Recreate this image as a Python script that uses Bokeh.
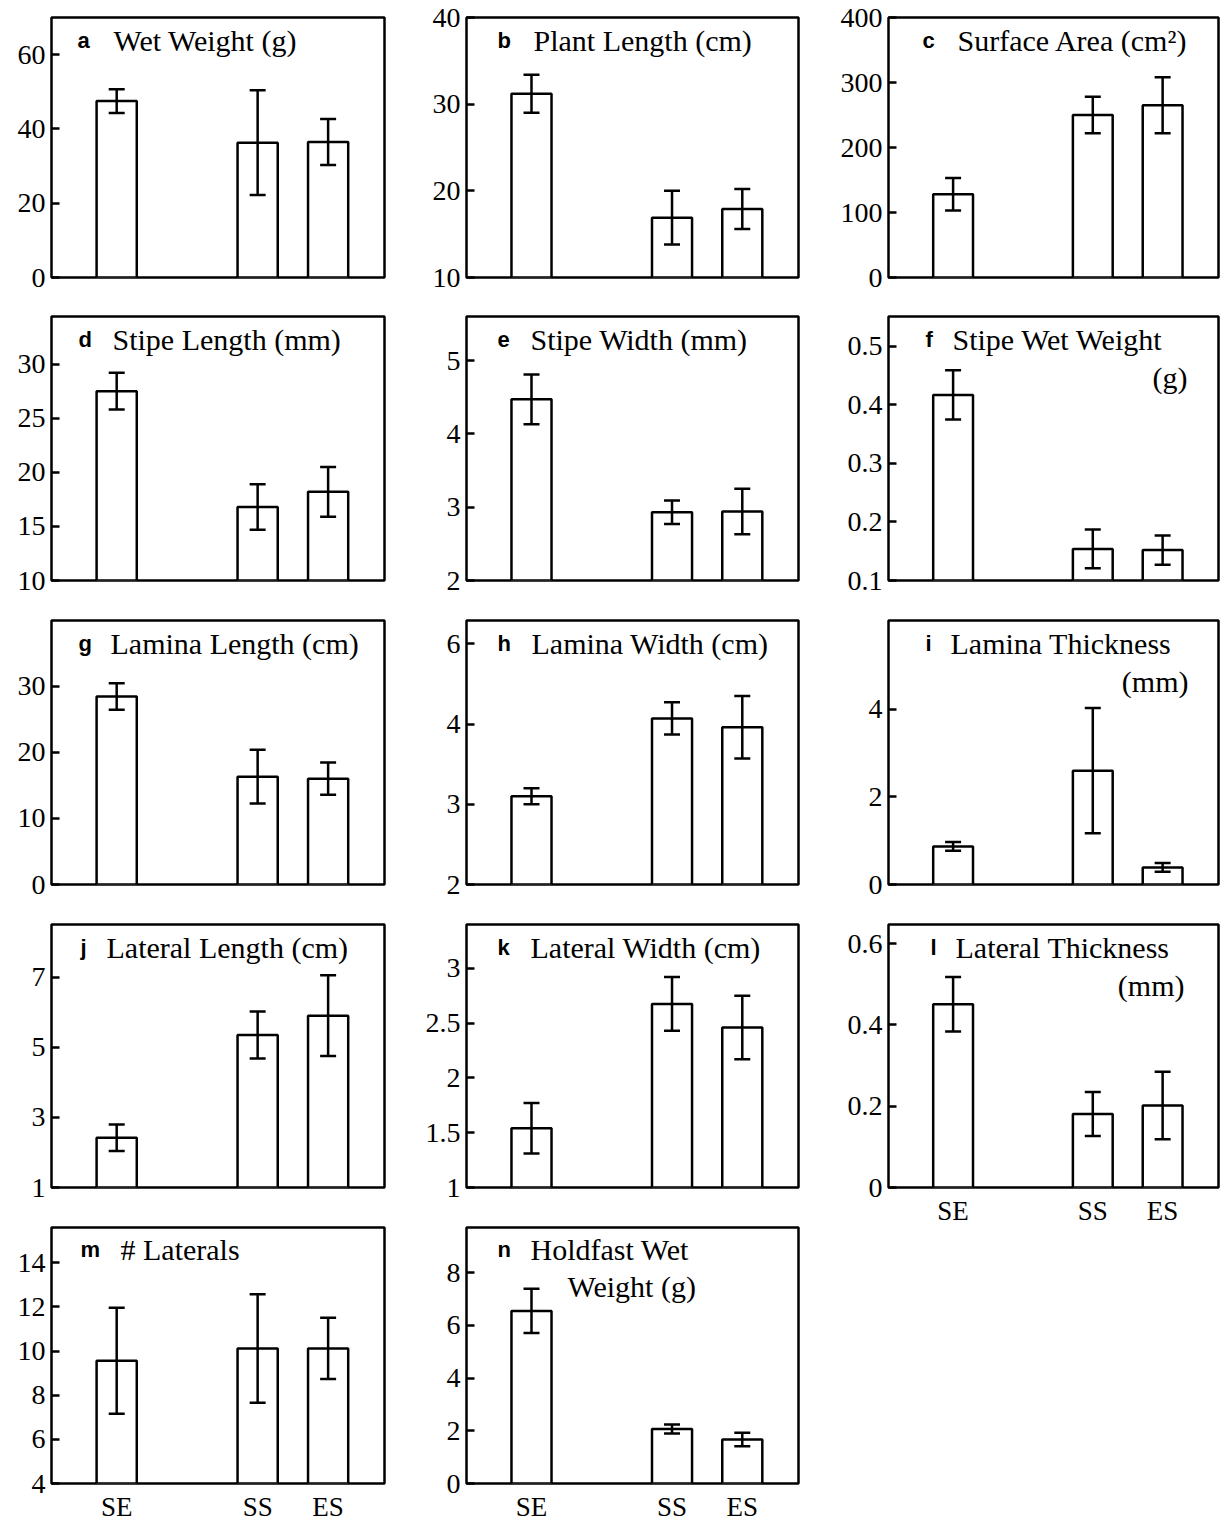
from bokeh.plotting import figure
from bokeh.models import Range1d, FixedTicker, Whisker, TeeHead, ColumnDataSource, Label
from bokeh.layouts import row, column
from bokeh.embed import file_html
from bokeh.resources import INLINE

# ---------------- data ----------------
groups = ["SE", "SS", "ES"]

wet_weight = [47.5, 36.3, 36.5]
wet_weight_err = [3.2, 14.1, 6.2]

plant_length = [31.2, 16.9, 17.9]
plant_length_err = [2.2, 3.1, 2.3]

surface_area = [128, 250, 265]
surface_area_err = [25, 28, 43]

stipe_length = [27.5, 16.8, 18.2]
stipe_length_err = [1.7, 2.1, 2.3]

stipe_width = [4.47, 2.93, 2.94]
stipe_width_err = [0.34, 0.16, 0.31]

stipe_wet_weight = [0.417, 0.154, 0.152]
stipe_wet_weight_err = [0.042, 0.033, 0.025]

lamina_length = [28.4, 16.3, 16.0]
lamina_length_err = [2.0, 4.05, 2.45]

lamina_width = [3.10, 4.07, 3.96]
lamina_width_err = [0.10, 0.20, 0.39]

lamina_thickness = [0.87, 2.6, 0.39]
lamina_thickness_err = [0.10, 1.43, 0.10]

lateral_length = [2.42, 5.35, 5.9]
lateral_length_err = [0.38, 0.67, 1.15]

lateral_width = [1.54, 2.675, 2.46]
lateral_width_err = [0.23, 0.245, 0.29]

lateral_thickness = [0.451, 0.181, 0.202]
lateral_thickness_err = [0.067, 0.054, 0.083]

n_laterals = [9.56, 10.12, 10.12]
n_laterals_err = [2.4, 2.46, 1.39]

holdfast_wet_weight = [6.55, 2.07, 1.67]
holdfast_wet_weight_err = [0.84, 0.17, 0.26]

# y ticks and labels per panel
ticks_a = [0, 20, 40, 60];            labels_a = ["0", "20", "40", "60"]
ticks_b = [10, 20, 30, 40];           labels_b = ["10", "20", "30", "40"]
ticks_c = [0, 100, 200, 300, 400];    labels_c = ["0", "100", "200", "300", "400"]
ticks_d = [10, 15, 20, 25, 30];       labels_d = ["10", "15", "20", "25", "30"]
ticks_e = [2, 3, 4, 5];               labels_e = ["2", "3", "4", "5"]
ticks_f = [0.1, 0.2, 0.3, 0.4, 0.5];  labels_f = ["0.1", "0.2", "0.3", "0.4", "0.5"]
ticks_g = [0, 10, 20, 30];            labels_g = ["0", "10", "20", "30"]
ticks_h = [2, 3, 4, 5];               labels_h = ["2", "3", "4", "6"]
ticks_i = [0, 2, 4];                  labels_i = ["0", "2", "4"]
ticks_j = [1, 3, 5, 7];               labels_j = ["1", "3", "5", "7"]
ticks_k = [1, 1.5, 2, 2.5, 3];        labels_k = ["1", "1.5", "2", "2.5", "3"]
ticks_l = [0, 0.2, 0.4, 0.6];         labels_l = ["0", "0.2", "0.4", "0.6"]
ticks_m = [4, 6, 8, 10, 12, 14];      labels_m = ["4", "6", "8", "10", "12", "14"]
ticks_n = [0, 2, 4, 6, 8];            labels_n = ["0", "2", "4", "6", "8"]

# ---------------- styling / layout ----------------
X_POS = [1, 3, 4]
X_RANGE = (0.075, 4.8)
SERIF = "Liberation Serif"
SANS = "Liberation Sans"
LW = 2.5
LINE1 = 23
LINE2 = 61


def make_panel(letter, title1, title2, vals, errs, yr, ticks, tick_labels,
               geom, letter_off, title_off, title2_off, title2_align, show_x):
    width, height, bl, br, bt, bb = geom
    p = figure(width=width, height=height, output_backend="svg", toolbar_location=None,
               x_range=Range1d(*X_RANGE), y_range=Range1d(*yr),
               min_border_left=bl, min_border_right=br,
               min_border_top=bt, min_border_bottom=bb)
    p.grid.visible = False
    p.background_fill_color = "white"
    p.border_fill_color = "white"
    p.outline_line_color = "black"
    p.outline_line_width = LW
    p.outline_line_alpha = 1.0

    src = ColumnDataSource(dict(
        x=X_POS, top=vals, bottom=[yr[0]] * len(vals),
        upper=[v + e for v, e in zip(vals, errs)],
        lower=[v - e for v, e in zip(vals, errs)],
    ))
    p.vbar(x="x", top="top", bottom="bottom", width=0.57, source=src,
           fill_color="white", line_color="black", line_width=LW)
    wh = Whisker(base="x", upper="upper", lower="lower", source=src,
                 line_color="black", line_width=LW, level="overlay",
                 upper_head=TeeHead(size=16, line_width=LW, line_color="black"),
                 lower_head=TeeHead(size=16, line_width=LW, line_color="black"))
    p.add_layout(wh)

    ya = p.yaxis[0]
    ya.ticker = FixedTicker(ticks=ticks)
    ya.major_label_overrides = {t: l for t, l in zip(ticks, tick_labels)}
    ya.axis_line_color = None
    ya.major_tick_in = 8
    ya.major_tick_out = 0
    ya.major_tick_line_width = LW
    ya.major_tick_line_color = "black"
    ya.minor_tick_line_color = None
    ya.major_label_text_font = SERIF
    ya.major_label_text_font_size = "28px"
    ya.major_label_text_color = "black"
    ya.major_label_standoff = 6

    xa = p.xaxis[0]
    if show_x:
        xa.ticker = FixedTicker(ticks=X_POS)
        xa.major_label_overrides = {x: g for x, g in zip(X_POS, groups)}
        xa.axis_line_color = None
        xa.major_tick_line_color = None
        xa.minor_tick_line_color = None
        xa.major_label_text_font = SERIF
        xa.major_label_text_font_size = "27px"
        xa.major_label_text_color = "black"
        xa.major_label_standoff = 2
    else:
        xa.visible = False

    # annotation text positions, from frame pixel offsets
    fw = width - bl - br
    fh = height - bt - bb
    x0, x1 = X_RANGE
    y0, y1 = yr

    def fx(px):
        return x0 + px / fw * (x1 - x0)

    def fy(px):
        return y1 - px / fh * (y1 - y0)

    p.add_layout(Label(x=fx(letter_off), y=fy(LINE1), text=letter, text_font=SANS,
                       text_font_style="bold", text_font_size="22px",
                       text_baseline="alphabetic", text_color="black"))
    p.add_layout(Label(x=fx(title_off), y=fy(LINE1), text=title1, text_font=SERIF,
                       text_font_size="30px", text_baseline="alphabetic",
                       text_color="black"))
    if title2:
        p.add_layout(Label(x=fx(title2_off), y=fy(LINE2), text=title2, text_font=SERIF,
                           text_font_size="30px", text_baseline="alphabetic",
                           text_align=title2_align, text_color="black"))
    return p


# geometry: (width, height, border_left, border_right, border_top, border_bottom)
C1 = (418, 51, 34)
C2 = (412, 48, 32)
C3 = (390, 58, 2)
R = [(300, 17, 23), (304, 16, 24), (304, 16, 24), (304, 16, 25), (312, 15, 32)]
R4_C3 = (340, 16, 61)


def g(c, r):
    return (c[0], r[0], c[1], c[2], r[1], r[2])


pa = make_panel("a", "Wet Weight (g)", None, wet_weight, wet_weight_err, (0, 70),
                ticks_a, labels_a, g(C1, R[0]), 26, 62, 0, "left", False)
pb = make_panel("b", "Plant Length (cm)", None, plant_length, plant_length_err, (10, 40),
                ticks_b, labels_b, g(C2, R[0]), 31, 67, 0, "left", False)
pc = make_panel("c", "Surface Area (cm\u00b2)", None, surface_area, surface_area_err, (0, 400),
                ticks_c, labels_c, g(C3, R[0]), 34, 69, 0, "left", False)

pd = make_panel("d", "Stipe Length (mm)", None, stipe_length, stipe_length_err, (10, 34.4),
                ticks_d, labels_d, g(C1, R[1]), 27, 61, 0, "left", False)
pe = make_panel("e", "Stipe Width (mm)", None, stipe_width, stipe_width_err, (2, 5.6),
                ticks_e, labels_e, g(C2, R[1]), 31, 64, 0, "left", False)
pf = make_panel("f", "Stipe Wet Weight", "(g)", stipe_wet_weight, stipe_wet_weight_err,
                (0.1, 0.551), ticks_f, labels_f, g(C3, R[1]), 37, 64, 299, "right", False)

pg = make_panel("g", "Lamina Length (cm)", None, lamina_length, lamina_length_err, (0, 39.9),
                ticks_g, labels_g, g(C1, R[2]), 27, 59, 0, "left", False)
ph = make_panel("h", "Lamina Width (cm)", None, lamina_width, lamina_width_err, (2, 5.29),
                ticks_h, labels_h, g(C2, R[2]), 31, 65, 0, "left", False)
pi = make_panel("i", "Lamina Thickness", "(mm)", lamina_thickness, lamina_thickness_err,
                (0, 6.03), ticks_i, labels_i, g(C3, R[2]), 37, 62, 300, "right", False)

pj = make_panel("j", "Lateral Length (cm)", None, lateral_length, lateral_length_err, (1, 8.5),
                ticks_j, labels_j, g(C1, R[3]), 29, 55, 0, "left", False)
pk = make_panel("k", "Lateral Width (cm)", None, lateral_width, lateral_width_err, (1, 3.4),
                ticks_k, labels_k, g(C2, R[3]), 31, 64, 0, "left", False)
pl = make_panel("l", "Lateral Thickness", "(mm)", lateral_thickness, lateral_thickness_err,
                (0, 0.647), ticks_l, labels_l, g(C3, R4_C3), 42, 67, 296, "right", True)

pm = make_panel("m", "# Laterals", None, n_laterals, n_laterals_err, (4, 15.6),
                ticks_m, labels_m, g(C1, R[4]), 29, 69, 0, "left", True)
pn = make_panel("n", "Holdfast Wet", "Weight (g)", holdfast_wet_weight, holdfast_wet_weight_err,
                (0, 9.72), ticks_n, labels_n, g(C2, R[4]), 31, 64, 101, "left", True)

layout = row(
    column(pa, pd, pg, pj, pm),
    column(pb, pe, ph, pk, pn),
    column(pc, pf, pi, pl),
)

open("out.html", "w").write(file_html(layout, INLINE))
